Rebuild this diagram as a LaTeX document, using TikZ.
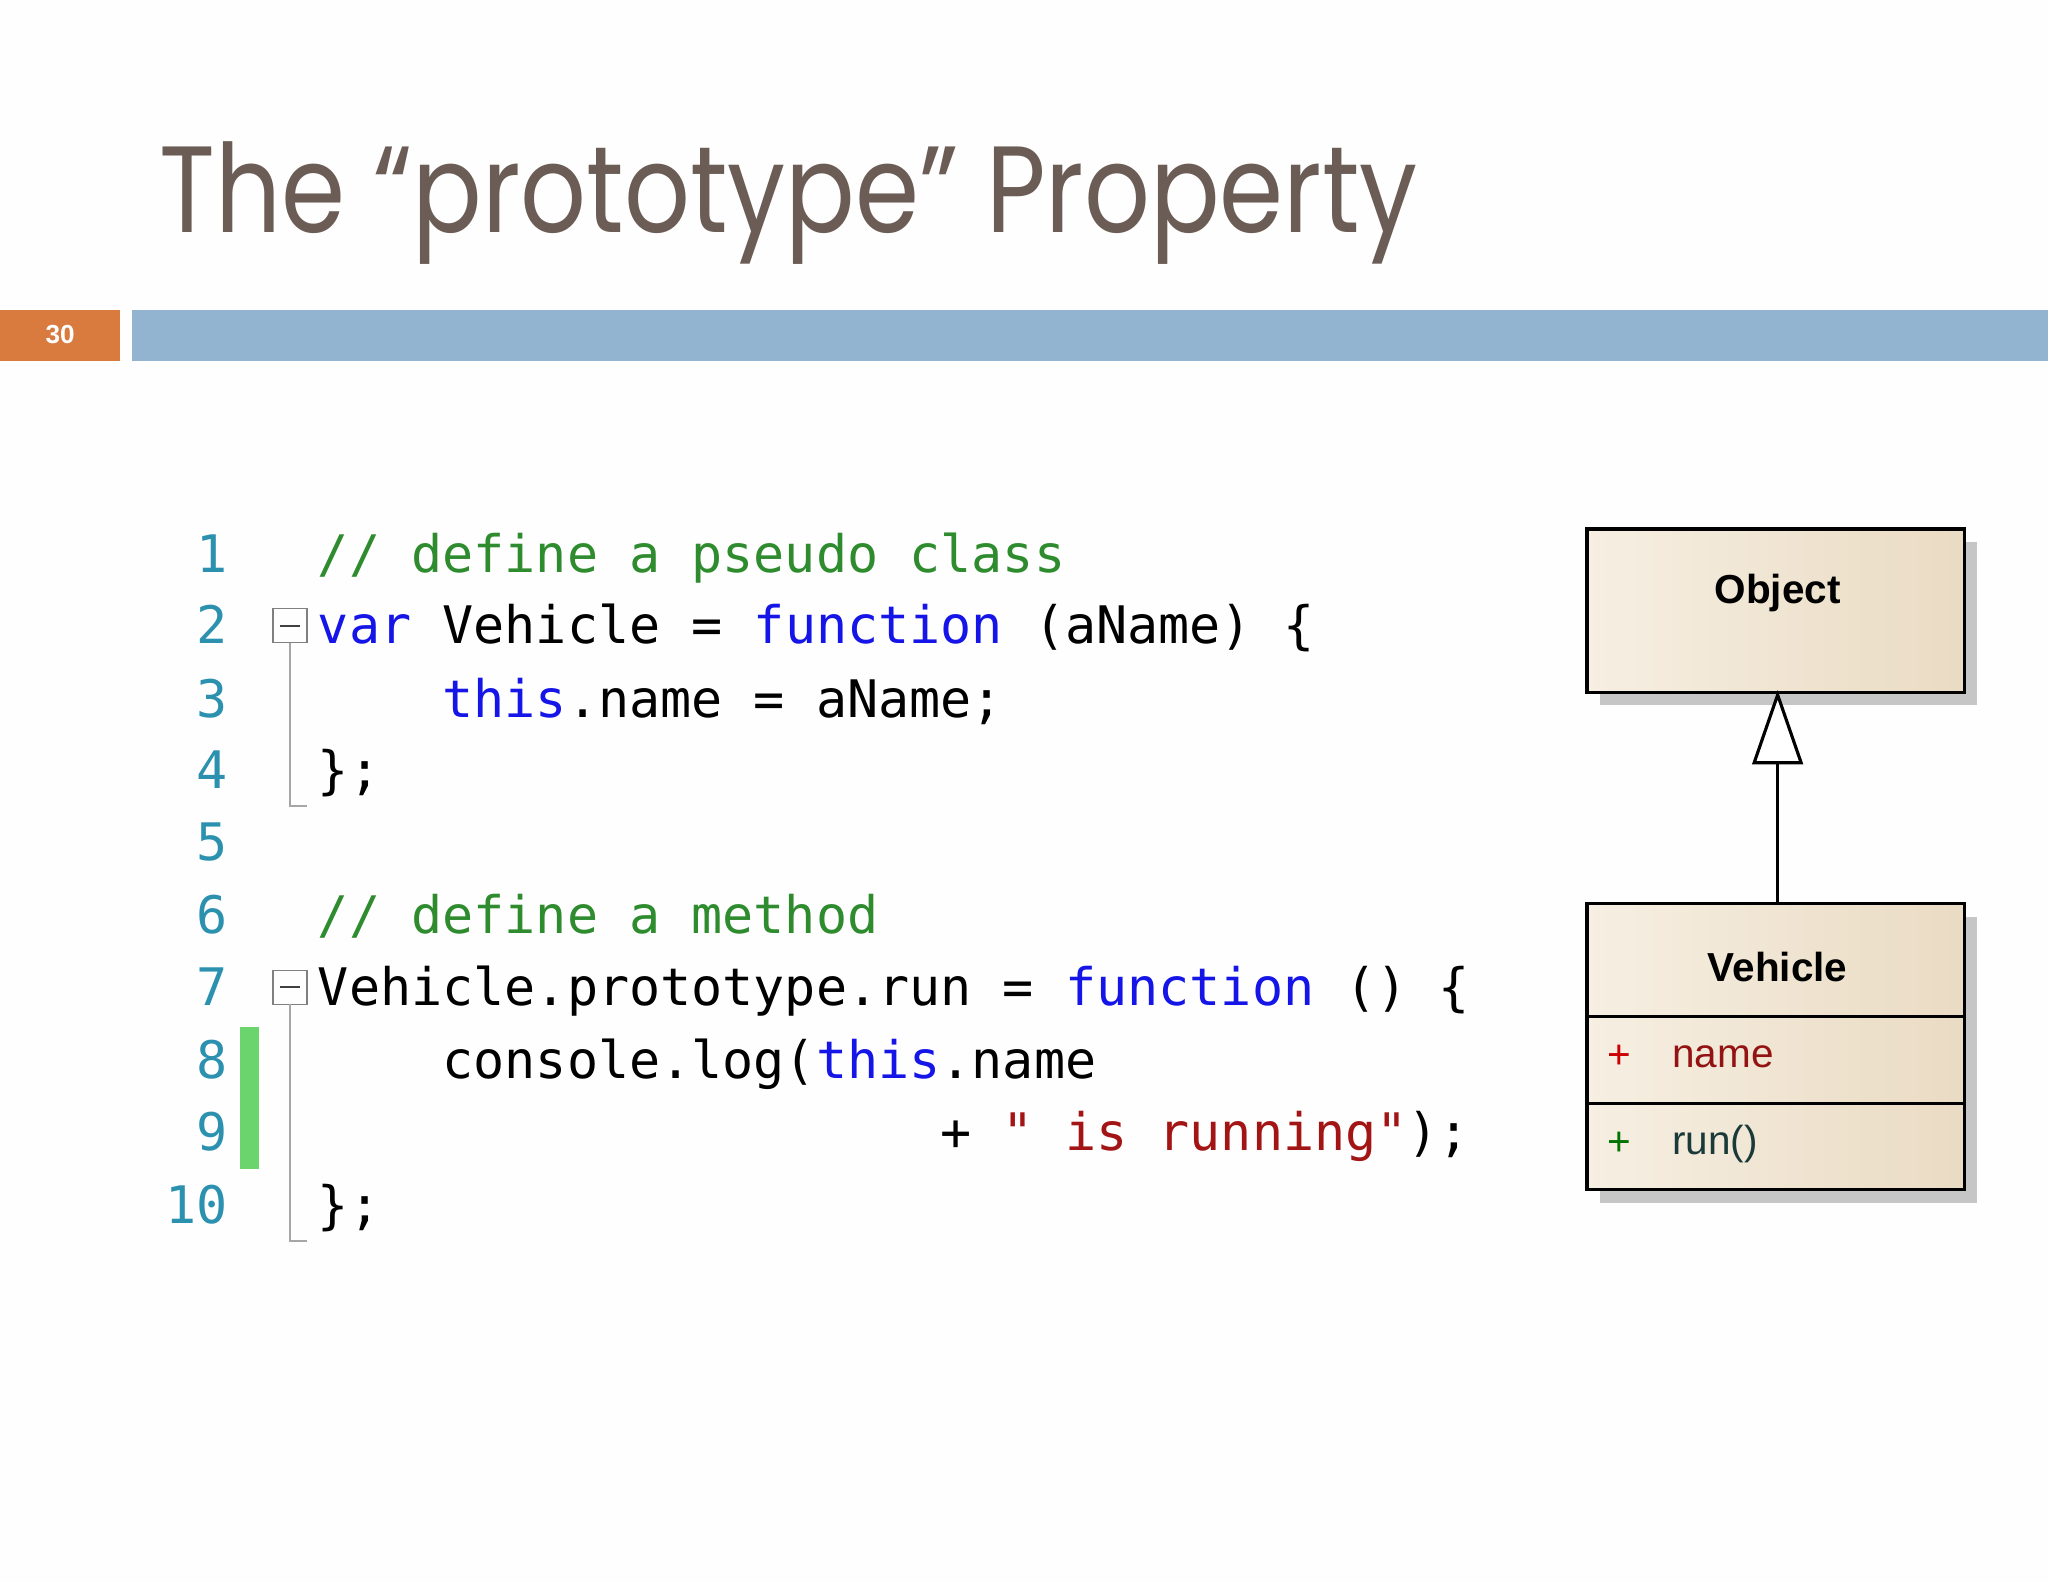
\documentclass[tikz,border=0pt]{standalone}
\usepackage{fontspec}
\setmainfont{Liberation Sans}
\newfontfamily\titlefont{Poppins}
\newfontfamily\codefont{DejaVu Sans Mono}
\usetikzlibrary{shadows}
\definecolor{titlec}{HTML}{6B5D55}
\definecolor{orangeb}{HTML}{D97A3E}
\definecolor{blueb}{HTML}{93B4D1}
\definecolor{cmt}{HTML}{2E8B2E}
\definecolor{kw}{HTML}{1515E8}
\definecolor{str}{HTML}{A31515}
\definecolor{lnum}{HTML}{2B91AF}
\definecolor{umla}{HTML}{F6EFE2}
\definecolor{umlb}{HTML}{EADBC3}
\definecolor{runc}{HTML}{1A3A3A}
\definecolor{greenbar}{HTML}{6CD46C}
\begin{document}
\begin{tikzpicture}[x=0.5pt,y=-0.5pt,
  code/.style={anchor=base west,inner sep=0,font=\codefont\fontsize{19.8}{20}\selectfont},
  num/.style={anchor=base east,inner sep=0,text=lnum,font=\codefont\fontsize{19.8}{20}\selectfont},
  umlbox/.style={draw=black,line width=1.2pt,left color=umla,right color=umlb},
  umltxt/.style={inner sep=0,font=\fontsize{15.5}{16}\selectfont}]
\useasboundingbox[fill=white!99!gray] (0,0) rectangle (1568,1211);
\node[anchor=base west,inner sep=0,text=titlec,font=\titlefont\fontsize{47}{50}\selectfont] (title) at (122,178) {\scalebox{0.84}[1]{The “prototype” Property}};
\fill[orangeb] (0,237) rectangle (92,276);
\node[text=white,font=\bfseries\fontsize{10}{12}\selectfont] (pg) at (46,256) {30};
\fill[blueb] (101,237) rectangle (1568,276);
% line numbers
\foreach \n/\y in {1/424,2/479,3/535,4/590,5/645,6/701,7/756,8/812,9/867,10/923}
  \node[num] (n\n) at (175,\y+14) {\n};
\fill[greenbar] (184,786) rectangle (198,895);
% fold markers
\foreach \a/\b in {479/617,756/950}{
  \draw[gray,line width=0.6pt] (209,\a-13) rectangle (235,\a+13);
  \draw[gray!50!black,line width=0.8pt] (214,\a) -- (230,\a);
  \draw[gray!70,line width=1pt] (222,\a+13) -- (222,\b) -- (235,\b);
}
\node[code,text=cmt] (c1) at (243,438) {// define a pseudo class};
\node[code] (c2) at (243,493) {\textcolor{kw}{var} Vehicle = \textcolor{kw}{function} (aName) \{};
\node[code] (c3) at (243,549) {\phantom{xxxx}\textcolor{kw}{this}.name = aName;};
\node[code] (c4) at (243,604) {\};};
\node[code,text=cmt] (c6) at (243,715) {// define a method};
\node[code] (c7) at (243,770) {Vehicle.prototype.run = \textcolor{kw}{function} () \{};
\node[code] (c8) at (243,826) {\phantom{xxxx}console.log(\textcolor{kw}{this}.name};
\node[code] (c9) at (243,881) {\phantom{xxxxxxxxxxxxxxxxxxxx}+ \textcolor{str}{" is running"});};
\node[code] (c10) at (243,937) {\};};
% UML
\fill[gray!45] (1225,415) rectangle (1514,540);
\fill[gray!45] (1225,702) rectangle (1514,921);
\draw[umlbox] (1215,405) rectangle (1504,530);
\node[umltxt,font=\bfseries\fontsize{15.5}{16}\selectfont] (obj) at (1361,454) {Object};
\draw[umlbox] (1215,692) rectangle (1504,911);
\draw[line width=1.2pt] (1215,778) -- (1504,778) (1215,845) -- (1504,845);
\node[umltxt,font=\bfseries\fontsize{15.5}{16}\selectfont] (veh) at (1361,740) {Vehicle};
\node[umltxt,text=red!80!black,anchor=west] (p1) at (1230,809) {+};
\node[umltxt,text=str!90!black,anchor=west] (nm) at (1280,809) {name};
\node[umltxt,text=green!45!black,anchor=west] (p2) at (1230,876) {+};
\node[umltxt,text=runc,anchor=west] (run) at (1280,876) {run()};
\coordinate (top) at (1361,692);
\coordinate (tip) at (1361,532);
\draw[line width=1.2pt] (top) -- (1361,584);
\draw[line width=1.2pt,fill=white] (tip) -- (1379,584) -- (1343,584) -- cycle;
\end{tikzpicture}
\end{document}
